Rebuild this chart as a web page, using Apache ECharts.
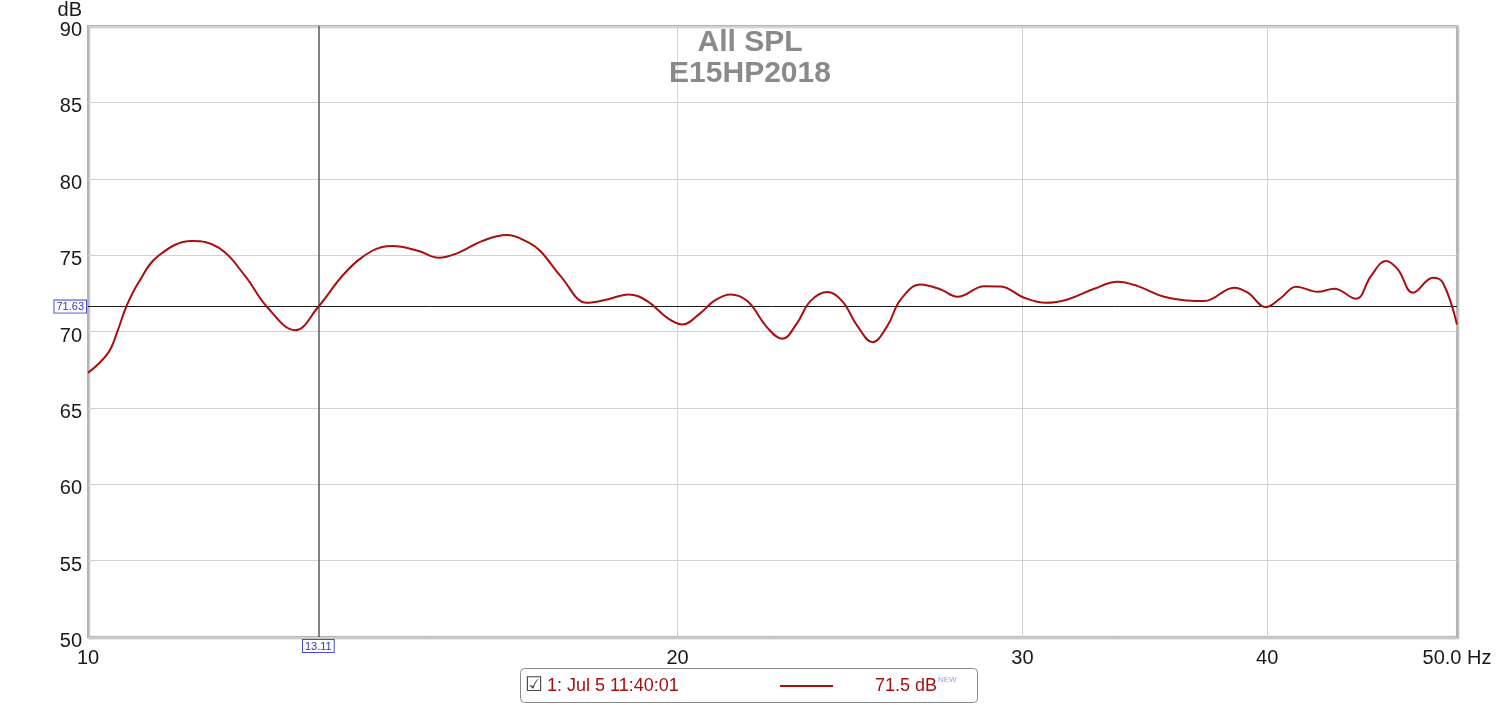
<!DOCTYPE html>
<html>
<head>
<meta charset="utf-8">
<script src="https://cdn.jsdelivr.net/npm/echarts@6/dist/echarts.min.js"></script>
<style>
  html, body { margin: 0; padding: 0; background: #fff; }
  #main { width: 1500px; height: 705px; }
</style>
</head>
<body>
<div id="main"></div>
<script>
// frequency (Hz) and SPL (dB)
const freqs = [10, 10.24, 10.36, 10.46, 10.61, 10.86, 11.30, 11.66, 12.03, 12.34, 12.76, 13.11,
  13.53, 13.96, 14.30, 14.75, 15.10, 15.46, 15.89, 16.36, 16.79, 17.02, 17.43, 17.98, 18.41,
  18.88, 19.30, 19.76, 20.11, 20.55, 20.87, 21.28, 21.71, 22.23, 22.62, 23.02, 23.38, 23.85,
  24.27, 24.71, 25.15, 25.59, 26.00, 26.61, 27.25, 27.79, 28.68, 29.24, 30.06, 30.83, 31.63,
  32.64, 33.55, 34.35, 35.44, 36.43, 37.15, 38.48, 39.10, 39.94, 40.66, 41.38, 42.45, 43.28,
  44.40, 45.19, 46.00, 46.64, 47.48, 48.61, 49.18, 50];
const spl = [67.29, 68.60, 70.13, 71.62, 73.19, 74.94, 75.92, 75.49, 73.63, 71.62, 70.09, 71.62,
  73.85, 75.27, 75.60, 75.27, 74.83, 75.16, 75.92, 76.31, 75.82, 75.27, 73.63, 71.88, 72.10,
  72.43, 71.99, 70.89, 70.46, 71.22, 71.99, 72.43, 71.99, 70.24, 69.52, 70.57, 71.99, 72.58,
  71.99, 70.35, 69.30, 70.35, 72.10, 73.08, 72.75, 72.27, 72.97, 72.95, 72.21, 71.88, 72.10,
  72.80, 73.26, 72.97, 72.27, 72.03, 71.99, 72.87, 72.54, 71.59, 72.21, 72.93, 72.60, 72.80,
  72.14, 73.63, 74.62, 74.07, 72.54, 73.52, 73.19, 70.46];

const xLabels = [10, 20, 30, 40, 50];
const xGrid = [20, 30, 40];
const cursorX = 13.11;
const cursorY = 71.63;
const legendName = '1: Jul 5 11:40:01';
const legendValue = '71.5 dB';

const traceColor = '#a80f0f';
const font = 'Liberation Sans, Arial, sans-serif';

let myChart = echarts.init(document.getElementById('main'));

const data = freqs.map((f, i) => [f, spl[i]]);

let option = {
  animation: false,
  textStyle: { fontFamily: font },
  title: {
    text: 'All SPL\nE15HP2018',
    left: 'center',
    top: 22,
    textStyle: { color: '#8a8a8a', fontSize: 30, fontWeight: 'bold', lineHeight: 31, fontFamily: font }
  },
  grid: {
    left: 88, right: 43, top: 26, bottom: 68,
    outerBoundsMode: 'none',
    show: true,
    backgroundColor: '#fff',
    borderColor: '#b4b4b4',
    borderWidth: 2,
    shadowColor: 'rgba(0,0,0,0.25)',
    shadowBlur: 2,
    shadowOffsetX: 1,
    shadowOffsetY: 1
  },
  xAxis: {
    type: 'log',
    logBase: 10,
    min: 10,
    max: 50,
    axisLine: { show: false },
    axisTick: { show: false, customValues: xGrid },
    splitLine: { show: true, lineStyle: { color: '#d2d2d2', width: 1 } },
    minorSplitLine: { show: false },
    axisLabel: {
      customValues: xLabels,
      color: '#1a1a1a',
      fontSize: 20,
      margin: 11,
      formatter: function (v) {
        let r = Math.round(v);
        return r === 50 ? '50.0 Hz' : String(r);
      }
    }
  },
  yAxis: {
    type: 'value',
    min: 50,
    max: 90,
    interval: 5,
    axisLine: { show: false },
    axisTick: { show: false },
    splitLine: { lineStyle: { color: '#d2d2d2', width: 1 } },
    // labels sit a little below their grid lines
    axisLabel: { color: '#1a1a1a', fontSize: 20, margin: 6, verticalAlign: 'top', lineHeight: 9 }
  },
  series: [{
    type: 'line',
    data: data,
    smooth: 0.4,
    symbol: 'none',
    lineStyle: { color: traceColor, width: 2 },
    z: 3,
    markLine: {
      silent: true,
      symbol: ['none', 'none'],
      z: 2,
      data: [
        {
          xAxis: cursorX,
          lineStyle: { color: '#5a5a5a', width: 1.5, type: 'solid' },
          label: {
            position: 'start', distance: 3, formatter: cursorX.toFixed(2),
            color: '#3434c8', fontSize: 11, backgroundColor: '#fff',
            borderColor: '#4a4ad8', borderWidth: 1, padding: [1, 2, 0, 2]
          }
        },
        {
          yAxis: cursorY,
          lineStyle: { color: '#1a1a1a', width: 1, type: 'solid' },
          label: {
            position: 'start', distance: 2, formatter: cursorY.toFixed(2),
            color: '#3434c8', fontSize: 11, backgroundColor: '#fff',
            borderColor: '#4a4ad8', borderWidth: 1, padding: [1, 2, 0, 2]
          }
        }
      ]
    }
  }],
  graphic: [
    {
      // y axis unit
      type: 'text',
      style: { text: 'dB', x: 82, y: 10, fontSize: 20, fill: '#1a1a1a', align: 'right', verticalAlign: 'middle', fontFamily: font }
    },
    {
      type: 'rect',
      shape: { x: 520.5, y: 668.5, width: 457, height: 34, r: 4 },
      style: { fill: '#fff', stroke: '#8c8c8c', lineWidth: 1 }
    },
    {
      type: 'text',
      style: { text: '\u2611', x: 525, y: 686, fontSize: 20, fill: '#444', verticalAlign: 'middle', fontFamily: 'DejaVu Sans' }
    },
    {
      type: 'text',
      style: { text: legendName, x: 547, y: 686, fontSize: 18, fill: traceColor, verticalAlign: 'middle', fontFamily: font }
    },
    {
      type: 'line',
      shape: { x1: 780, y1: 686, x2: 833, y2: 686 },
      style: { stroke: traceColor, lineWidth: 2 }
    },
    {
      type: 'text',
      style: { text: legendValue, x: 937, y: 686, fontSize: 18, fill: traceColor, align: 'right', verticalAlign: 'middle', fontFamily: font }
    },
    {
      type: 'text',
      style: { text: 'NEW', x: 938, y: 680, fontSize: 8, fill: '#9a9ae6', verticalAlign: 'middle', fontFamily: font }
    }
  ]
};

option && myChart.setOption(option);
</script>
</body>
</html>
